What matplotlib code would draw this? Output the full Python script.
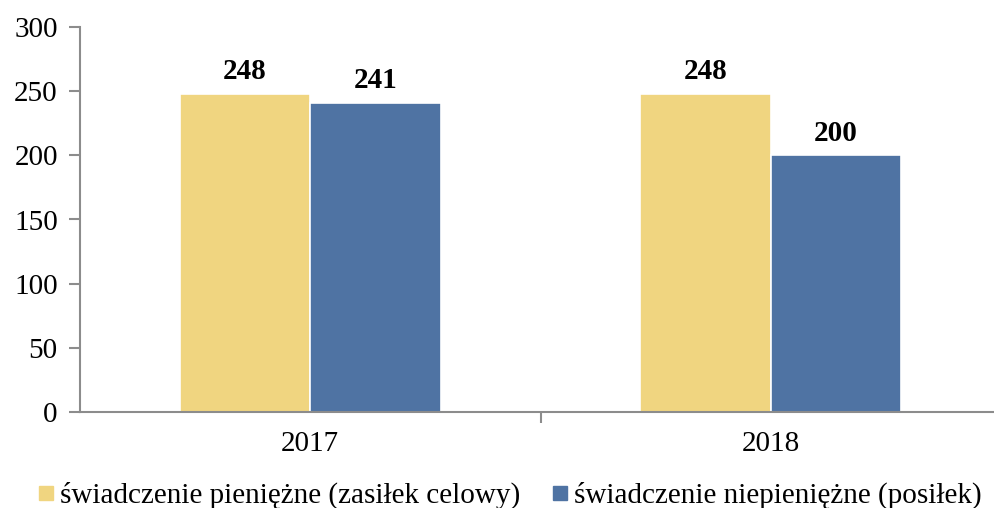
import matplotlib
matplotlib.use("Agg")
import matplotlib.pyplot as plt
from matplotlib.lines import Line2D
import numpy as np

plt.rcParams['font.family'] = ['Liberation Serif', 'DejaVu Serif']

years = ["2017", "2018"]
series_names = ["świadczenie pieniężne (zasiłek celowy)",
                "świadczenie niepieniężne (posiłek)"]
cash_benefit = [248, 248]
in_kind_benefit = [241, 200]
y_ticks = [0, 50, 100, 150, 200, 250, 300]

colors = ["#F0D580", "#4F73A3"]
axis_gray = "#8C8C8C"

fig = plt.figure(figsize=(9.94, 5.08), dpi=100)
ax = fig.add_axes([80 / 994, 96 / 508, 921 / 994, 385 / 508])

x = np.arange(len(years))
w = 0.283
for vals, c, off in ((cash_benefit, colors[0], -w / 2), (in_kind_benefit, colors[1], w / 2)):
    bars = ax.bar(x + off, vals, width=w, color=c, edgecolor="white", linewidth=1.2)
    for b, v in zip(bars, vals):
        ax.annotate(f"{v}", (b.get_x() + b.get_width() / 2, v),
                    xytext=(0, 6), textcoords="offset points",
                    ha="center", va="bottom", fontsize=21, fontweight="bold")

ax.set_xlim(-0.5, 1.5)
ax.set_ylim(0, 300)
ax.set_yticks(y_ticks)
ax.set_xticks(x)
ax.set_xticklabels(years)
ax.set_xticks([0.5], minor=True)

for s in ("top", "right"):
    ax.spines[s].set_visible(False)
for s in ("left", "bottom"):
    ax.spines[s].set_color(axis_gray)
    ax.spines[s].set_linewidth(1.5)

ax.tick_params(axis="y", labelsize=21, length=8, width=1.5, color=axis_gray, pad=8)
ax.tick_params(axis="x", which="major", labelsize=21, length=0, pad=14)
ax.tick_params(axis="x", which="minor", length=8, width=1.5, color=axis_gray)

handles = [Line2D([], [], linestyle="none", marker="s", markersize=9.5,
                  markerfacecolor=c, markeredgecolor=c) for c in colors]
fig.legend(handles, series_names, loc="center", bbox_to_anchor=(0.513, 0.024),
           ncol=2, frameon=False, fontsize=21, handlelength=0.55,
           handletextpad=0.2, columnspacing=1.1, borderaxespad=0, borderpad=0)

fig.savefig("out.png", dpi=100)
